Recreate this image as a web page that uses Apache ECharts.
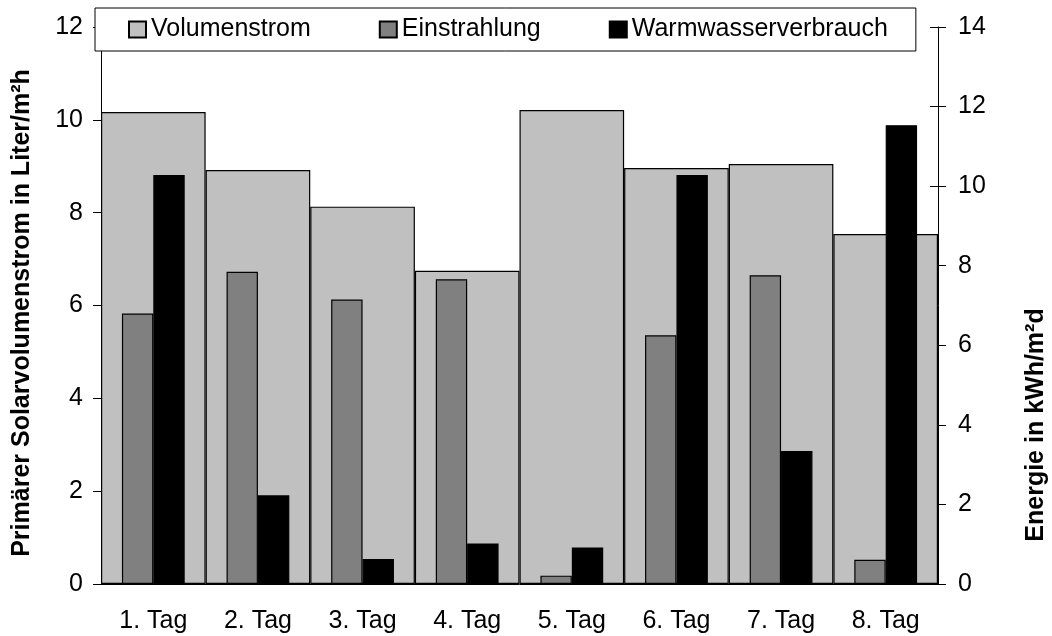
<!DOCTYPE html>
<html>
<head>
<meta charset="utf-8">
<script src="https://cdn.jsdelivr.net/npm/echarts@6/dist/echarts.min.js"></script>
<style>
  html, body { margin: 0; padding: 0; background: #fff; }
  #chart { width: 1052px; height: 636px; }
</style>
</head>
<body>
<div id="chart"></div>
<script>
// Eight measurement days
const days = ['1. Tag', '2. Tag', '3. Tag', '4. Tag', '5. Tag', '6. Tag', '7. Tag', '8. Tag'];
// Primary solar flow rate, l/m²h (left axis)
const volumenstrom = [10.17, 8.92, 8.13, 6.75, 10.21, 8.96, 9.05, 7.54];
// Daily irradiation, kWh/m²d (right axis)
const einstrahlung = [6.80, 7.85, 7.15, 7.66, 0.21, 6.25, 7.76, 0.61];
// Daily hot water consumption, kWh/m²d (right axis)
const warmwasser = [10.28, 2.23, 0.63, 1.02, 0.92, 10.28, 3.34, 11.53];

const FONT = '"Liberation Sans", Arial, sans-serif';
const FS = 25;

const chart = echarts.init(document.getElementById('chart'), null, { renderer: 'canvas' });

const axisLabel = { color: '#000', fontFamily: FONT, fontSize: FS };

chart.setOption({
  animation: false,
  backgroundColor: '#fff',
  grid: { left: 101, right: 114, top: 27, bottom: 52, containLabel: false },
  legend: {
    left: 95,
    top: 8,
    padding: [9, 28, 9, 33],
    itemGap: 68,
    itemWidth: 17,
    itemHeight: 16,
    icon: 'rect',
    backgroundColor: '#fff',
    borderColor: '#000',
    borderWidth: 1,
    textStyle: { color: '#000', fontFamily: FONT, fontSize: FS },
    data: ['Volumenstrom', 'Einstrahlung', 'Warmwasserverbrauch']
  },
  xAxis: [
    {
      type: 'category',
      data: days,
      boundaryGap: true,
      axisLine: { lineStyle: { color: '#000', width: 1 } },
      axisTick: { length: 7, lineStyle: { color: '#000' } },
      axisLabel: Object.assign({ margin: 25 }, axisLabel)
    },
    {
      type: 'category',
      data: days,
      show: false
    }
  ],
  yAxis: [
    {
      type: 'value',
      position: 'left',
      min: 0, max: 12, interval: 2,
      splitLine: { show: false },
      axisLine: { show: true, lineStyle: { color: '#000' } },
      axisTick: { show: true, length: 8, lineStyle: { color: '#000' } },
      axisLabel: Object.assign({ margin: 18 }, axisLabel)
    },
    {
      type: 'value',
      position: 'right',
      min: 0, max: 14, interval: 2,
      splitLine: { show: false },
      axisLine: { show: true, lineStyle: { color: '#000' } },
      axisTick: { show: true, length: 8, lineStyle: { color: '#000' } },
      axisLabel: Object.assign({ margin: 20 }, axisLabel)
    },
    {
      // inner half of the crossing ticks on the energy axis
      type: 'value',
      position: 'right',
      min: 0, max: 14, interval: 2,
      splitLine: { show: false },
      axisLine: { show: false },
      axisTick: { show: true, inside: true, length: 8, lineStyle: { color: '#000' } },
      axisLabel: { show: false }
    }
  ],
  graphic: [
    {
      type: 'text',
      x: 22, y: 313,
      rotation: Math.PI / 2,
      style: {
        text: 'Primärer Solarvolumenstrom in Liter/m²h',
        font: 'bold ' + FS + 'px ' + FONT,
        fill: '#000',
        align: 'center',
        verticalAlign: 'middle'
      }
    },
    {
      type: 'text',
      x: 1036, y: 425,
      rotation: Math.PI / 2,
      style: {
        text: 'Energie in kWh/m²d',
        font: 'bold ' + FS + 'px ' + FONT,
        fill: '#000',
        align: 'center',
        verticalAlign: 'middle'
      }
    }
  ],
  series: [
    {
      name: 'Volumenstrom',
      type: 'bar',
      xAxisIndex: 1,
      yAxisIndex: 0,
      barCategoryGap: 0,
      data: volumenstrom,
      itemStyle: { color: '#c0c0c0', borderColor: '#000', borderWidth: 1.2 }
    },
    {
      name: 'Einstrahlung',
      type: 'bar',
      xAxisIndex: 0,
      yAxisIndex: 1,
      barCategoryGap: '40%',
      barGap: 0,
      data: einstrahlung,
      itemStyle: { color: '#808080', borderColor: '#000', borderWidth: 1.2 }
    },
    {
      name: 'Warmwasserverbrauch',
      type: 'bar',
      xAxisIndex: 0,
      yAxisIndex: 1,
      barCategoryGap: '40%',
      barGap: 0,
      data: warmwasser,
      itemStyle: { color: '#000', borderColor: '#000', borderWidth: 1.2 }
    }
  ]
});
</script>
</body>
</html>
